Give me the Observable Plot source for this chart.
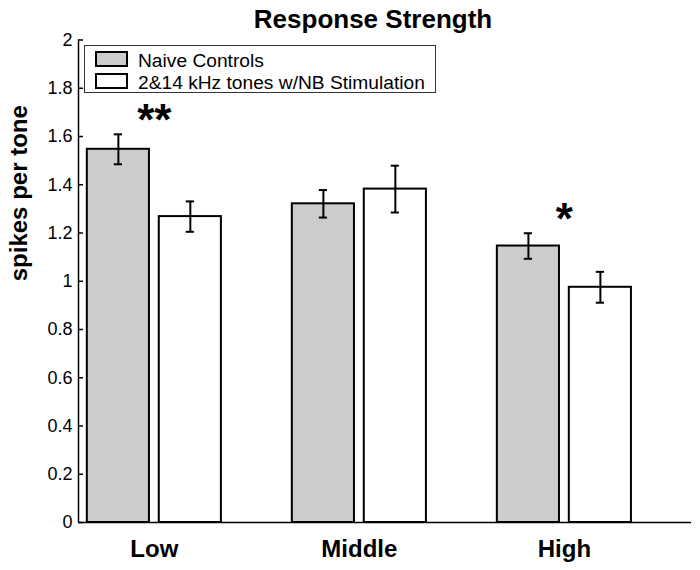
<!DOCTYPE html>
<html>
<head>
<meta charset="utf-8">
<script src="https://cdn.jsdelivr.net/npm/d3@7"></script>
<script src="https://cdn.jsdelivr.net/npm/@observablehq/plot@0.6"></script>
<style>
  body { margin: 0; background: #fff; font-family: "Liberation Sans", Arial, sans-serif; }
  #wrap { position: relative; width: 700px; height: 570px; }
  #title { position: absolute; left: 23px; top: 6px; width: 700px; text-align: center; font-weight: bold; font-size: 26px; line-height: 1; color: #000; }
  #legend { position: absolute; left: 84px; top: 45px; width: 350px; height: 46px; border: 1px solid #333; background: #fff; }
  .row { position: absolute; left: 0; height: 22px; }
  .sw { position: absolute; left: 10px; width: 29px; height: 12px; border: 2px solid #000; }
  .lt { position: absolute; left: 53px; font-size: 19.2px; line-height: 1; white-space: nowrap; color: #000; }
</style>
</head>
<body>
<div id="wrap">
  <div id="chart"></div>
  <div id="title">Response Strength</div>
  <div id="legend"></div>
</div>
<script>
// ---- data ----
const groups = ["Low", "Middle", "High"];
const seriesNames = ["Naive Controls", "2&14 kHz tones w/NB Stimulation"];
const seriesColors = ["#cccccc", "#ffffff"];
const naiveValues = [1.547, 1.321, 1.146];
const naiveErrors = [0.062, 0.057, 0.053];
const nbValues = [1.268, 1.382, 0.975];
const nbErrors = [0.063, 0.097, 0.064];
const yTicks = [0, 0.2, 0.4, 0.6, 0.8, 1, 1.2, 1.4, 1.6, 1.8, 2];
const stars = [{group: "Low", value: 1.70, text: "**"}, {group: "High", value: 1.29, text: "*"}];

// layout helpers (grouped bar geometry in x units)
const xDomain = [0.63, 3.62];
const barOffsets = [[-0.327, -0.024], [0.024, 0.327]];
const capHalf = 0.02;

const rows = [];
groups.forEach((g, i) => {
  rows.push({group: g, gi: i + 1, s: 0, value: naiveValues[i], err: naiveErrors[i]});
  rows.push({group: g, gi: i + 1, s: 1, value: nbValues[i], err: nbErrors[i]});
});
const center = d => d.gi + (barOffsets[d.s][0] + barOffsets[d.s][1]) / 2;

const plot = Plot.plot({
  width: 700,
  height: 570,
  marginLeft: 78,
  marginRight: 9,
  marginTop: 39.5,
  marginBottom: 48,
  style: {fontFamily: "Liberation Sans, Arial, sans-serif", background: "#fff", color: "#000"},
  x: {type: "linear", domain: xDomain, label: null},
  y: {domain: [0, 2], label: null},
  marks: [
    Plot.rectY(rows, {
      x1: d => d.gi + barOffsets[d.s][0],
      x2: d => d.gi + barOffsets[d.s][1],
      y1: 0, y2: "value",
      fill: d => seriesColors[d.s],
      stroke: "#000", strokeWidth: 2
    }),
    Plot.ruleX(rows, {x: center, y1: d => d.value - d.err, y2: d => d.value + d.err, stroke: "#000", strokeWidth: 2}),
    Plot.ruleY(rows, {x1: d => center(d) - capHalf, x2: d => center(d) + capHalf, y: d => d.value + d.err, stroke: "#000", strokeWidth: 2}),
    Plot.ruleY(rows, {x1: d => center(d) - capHalf, x2: d => center(d) + capHalf, y: d => d.value - d.err, stroke: "#000", strokeWidth: 2}),
    Plot.text(stars, {x: d => groups.indexOf(d.group) + 1, y: "value", text: "text", fontSize: 44, fontWeight: "bold", textAnchor: "middle", lineAnchor: "middle", dy: 9}),
    Plot.ruleX([xDomain[0]], {y1: 0, y2: 2, stroke: "#000", strokeWidth: 1.5}),
    Plot.ruleY([0], {stroke: "#000", strokeWidth: 1.5}),
    Plot.axisY({ticks: yTicks, label: null, tickSize: -5, tickPadding: 11, fontSize: 18, tickFormat: d => String(d), strokeWidth: 1.5}),
    Plot.axisX({ticks: [1, 2, 3], label: null, tickFormat: i => groups[i - 1], tickSize: 0, tickPadding: 17, fontSize: 24, fontWeight: "bold"}),
    Plot.text(["spikes per tone"], {frameAnchor: "left", dx: -52, rotate: -90, fontSize: 24, fontWeight: "bold", lineAnchor: "bottom", text: d => d})
  ]
});
document.getElementById("chart").appendChild(plot);

// legend
const leg = document.getElementById("legend");
seriesNames.forEach((name, i) => {
  const row = document.createElement("div");
  row.className = "row";
  row.style.top = (4 + i * 22) + "px";
  const sw = document.createElement("div");
  sw.className = "sw";
  sw.style.top = "1px";
  sw.style.background = seriesColors[i];
  const t = document.createElement("div");
  t.className = "lt";
  t.style.top = "1px";
  t.textContent = name;
  row.appendChild(sw);
  row.appendChild(t);
  leg.appendChild(row);
});
</script>
</body>
</html>
